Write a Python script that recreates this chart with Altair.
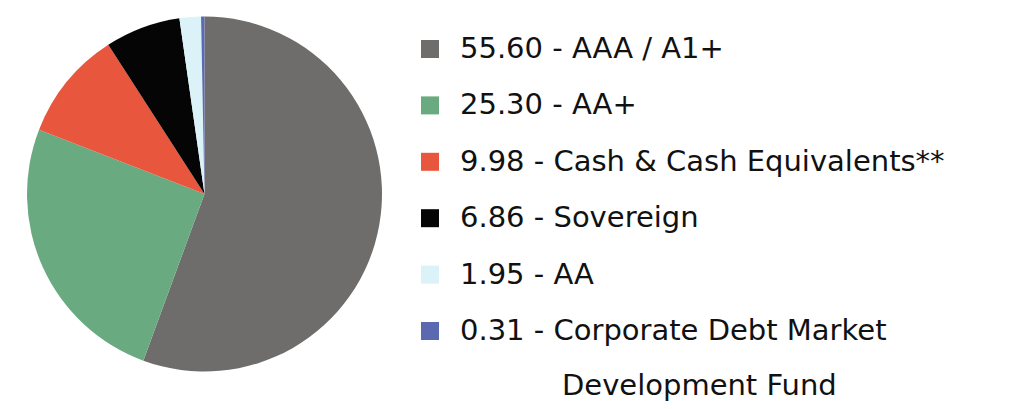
import altair as alt
import pandas as pd

values = [55.60, 25.30, 9.98, 6.86, 1.95, 0.31]
names = ["AAA / A1+", "AA+", "Cash & Cash Equivalents**", "Sovereign", "AA", "Corporate Debt Market"]
second_line = ["", "", "", "", "", "Development Fund"]
colors = ["#6f6d6b", "#6aaa80", "#e8573d", "#050505", "#dbf2f8", "#5b6ab0"]

df = pd.DataFrame({
    "name": names,
    "value": values,
    "order": list(range(len(values))),
    "label": [f"{v:.2f} - {n}" for v, n in zip(values, names)],
    "label2": second_line,
})

color = alt.Color("name:N", scale=alt.Scale(domain=names, range=colors), legend=None)

pie = alt.Chart(df).mark_arc(strokeWidth=0).encode(
    theta=alt.Theta("value:Q", stack=True),
    order=alt.Order("order:Q"),
    color=color,
    x=alt.value(196.5),
    y=alt.value(186),
    radius=alt.value(177.5),
)

yscale = alt.Scale(type="point", domain=list(range(len(values))), range=[41, 323], padding=0)

squares = alt.Chart(df).mark_square(size=324, opacity=1).encode(
    x=alt.value(422),
    y=alt.Y("order:O", scale=yscale, axis=None),
    color=color,
)

font = "DejaVu Sans"
fsize = 29

texts = alt.Chart(df).mark_text(
    align="left", baseline="middle", fontSize=fsize, font=font, color="#111111"
).encode(
    x=alt.value(452),
    y=alt.Y("order:O", scale=yscale, axis=None),
    text="label:N",
)

texts2 = alt.Chart(df).mark_text(
    align="left", baseline="middle", fontSize=fsize, font=font, color="#111111", dy=55
).encode(
    x=alt.value(554),
    y=alt.Y("order:O", scale=yscale, axis=None),
    text="label2:N",
)

chart = alt.layer(pie, squares, texts, texts2).properties(
    width=998, height=393, padding=0,
    autosize=alt.AutoSizeParams(type="none"),
).configure_view(stroke=None)

chart.save("out.html", embed_options={"renderer": "svg", "actions": False})
